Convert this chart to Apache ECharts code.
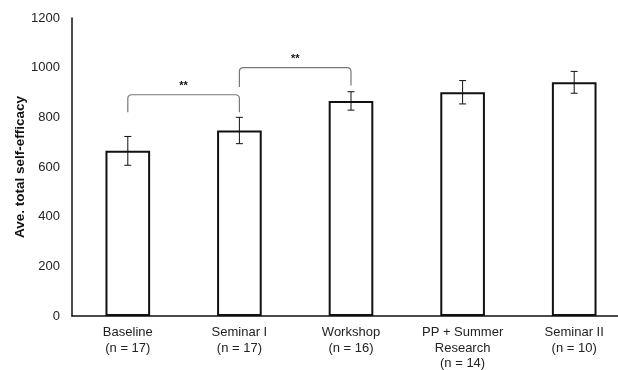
<!DOCTYPE html>
<html>
<head>
<meta charset="utf-8">
<script src="https://cdn.jsdelivr.net/npm/echarts@6/dist/echarts.min.js"></script>
<style>
  html, body { margin: 0; padding: 0; background: #fff; }
  #chart { width: 618px; height: 370px; }
</style>
</head>
<body>
<div id="chart"></div>
<script>
// Groups and their sample sizes
const categories = ['Baseline\n(n = 17)', 'Seminar I\n(n = 17)', 'Workshop\n(n = 16)', 'PP + Summer\nResearch\n(n = 14)', 'Seminar II\n(n = 10)'];
// Mean total self-efficacy per group
const means = [665, 747, 866, 901, 941];
// Error (±) per group
const errors = [58, 53, 37, 47, 44];
// Y-axis ticks
const yTicks = { min: 0, max: 1200, interval: 200 };
// Significance brackets: [from group, to group, bracket height, left leg end, right leg end, label]
const brackets = [
  [0, 1, 891, 820, 820, '**'],
  [1, 2, 1000, 922, 928, '**']
];

const chart = echarts.init(document.getElementById('chart'));

const errorData = means.map((m, i) => [i, m - errors[i], m + errors[i]]);
const font = 'Liberation Sans, Arial, sans-serif';

chart.setOption({
  animation: false,
  grid: { left: 72, top: 18, width: 558, height: 298, outerBoundsMode: 'none', containLabel: false },
  xAxis: {
    type: 'category',
    data: categories,
    axisLine: { lineStyle: { color: '#111', width: 1.5 } },
    axisTick: { show: false },
    axisLabel: {
      interval: 0,
      margin: 9,
      fontFamily: font,
      fontSize: 13,
      lineHeight: 15.5,
      color: '#222'
    }
  },
  yAxis: {
    type: 'value',
    min: yTicks.min,
    max: yTicks.max,
    interval: yTicks.interval,
    name: 'Ave. total self-efficacy',
    nameLocation: 'middle',
    nameGap: 45,
    nameMoveOverlap: false,
    nameTextStyle: {
      fontFamily: font,
      fontSize: 13.5,
      fontWeight: 'bold',
      color: '#111'
    },
    axisLine: { show: true, lineStyle: { color: '#111', width: 1.5 } },
    axisTick: { show: false },
    splitLine: { show: false },
    axisLabel: {
      margin: 12,
      fontFamily: font,
      fontSize: 13,
      color: '#222',
      formatter: function (v) { return String(v); }
    }
  },
  series: [
    {
      type: 'bar',
      data: means,
      barWidth: '40%',
      itemStyle: { color: '#fff', borderColor: '#111', borderWidth: 2 }
    },
    {
      type: 'custom',
      data: errorData,
      z: 5,
      renderItem: function (params, api) {
        const x = api.coord([api.value(0), api.value(1)])[0];
        const lo = api.coord([api.value(0), api.value(1)])[1];
        const hi = api.coord([api.value(0), api.value(2)])[1];
        const cap = 3.5;
        const style = { stroke: '#111', lineWidth: 1 };
        return {
          type: 'group',
          children: [
            { type: 'line', shape: { x1: x, y1: lo, x2: x, y2: hi }, style },
            { type: 'line', shape: { x1: x - cap, y1: lo, x2: x + cap, y2: lo }, style },
            { type: 'line', shape: { x1: x - cap, y1: hi, x2: x + cap, y2: hi }, style }
          ]
        };
      }
    },
    {
      type: 'custom',
      data: brackets,
      z: 6,
      renderItem: function (params, api) {
        const a = api.coord([api.value(0), api.value(2)]);
        const b = api.coord([api.value(1), api.value(2)]);
        const la = api.coord([api.value(0), api.value(3)])[1];
        const lb = api.coord([api.value(1), api.value(4)])[1];
        const r = 4;
        const y = a[1];
        const path = 'M' + a[0] + ' ' + la +
          ' L' + a[0] + ' ' + (y + r) +
          ' Q' + a[0] + ' ' + y + ' ' + (a[0] + r) + ' ' + y +
          ' L' + (b[0] - r) + ' ' + y +
          ' Q' + b[0] + ' ' + y + ' ' + b[0] + ' ' + (y + r) +
          ' L' + b[0] + ' ' + lb;
        return {
          type: 'group',
          children: [
            { type: 'path', shape: { pathData: path }, style: { fill: null, stroke: '#777', lineWidth: 1.2 } },
            {
              type: 'text',
              style: {
                text: brackets[params.dataIndex][5],
                x: (a[0] + b[0]) / 2,
                y: y - 9,
                align: 'center',
                verticalAlign: 'middle',
                font: 'bold 11px Liberation Sans, Arial, sans-serif',
                fill: '#111'
              }
            }
          ]
        };
      }
    }
  ]
});
</script>
</body>
</html>
